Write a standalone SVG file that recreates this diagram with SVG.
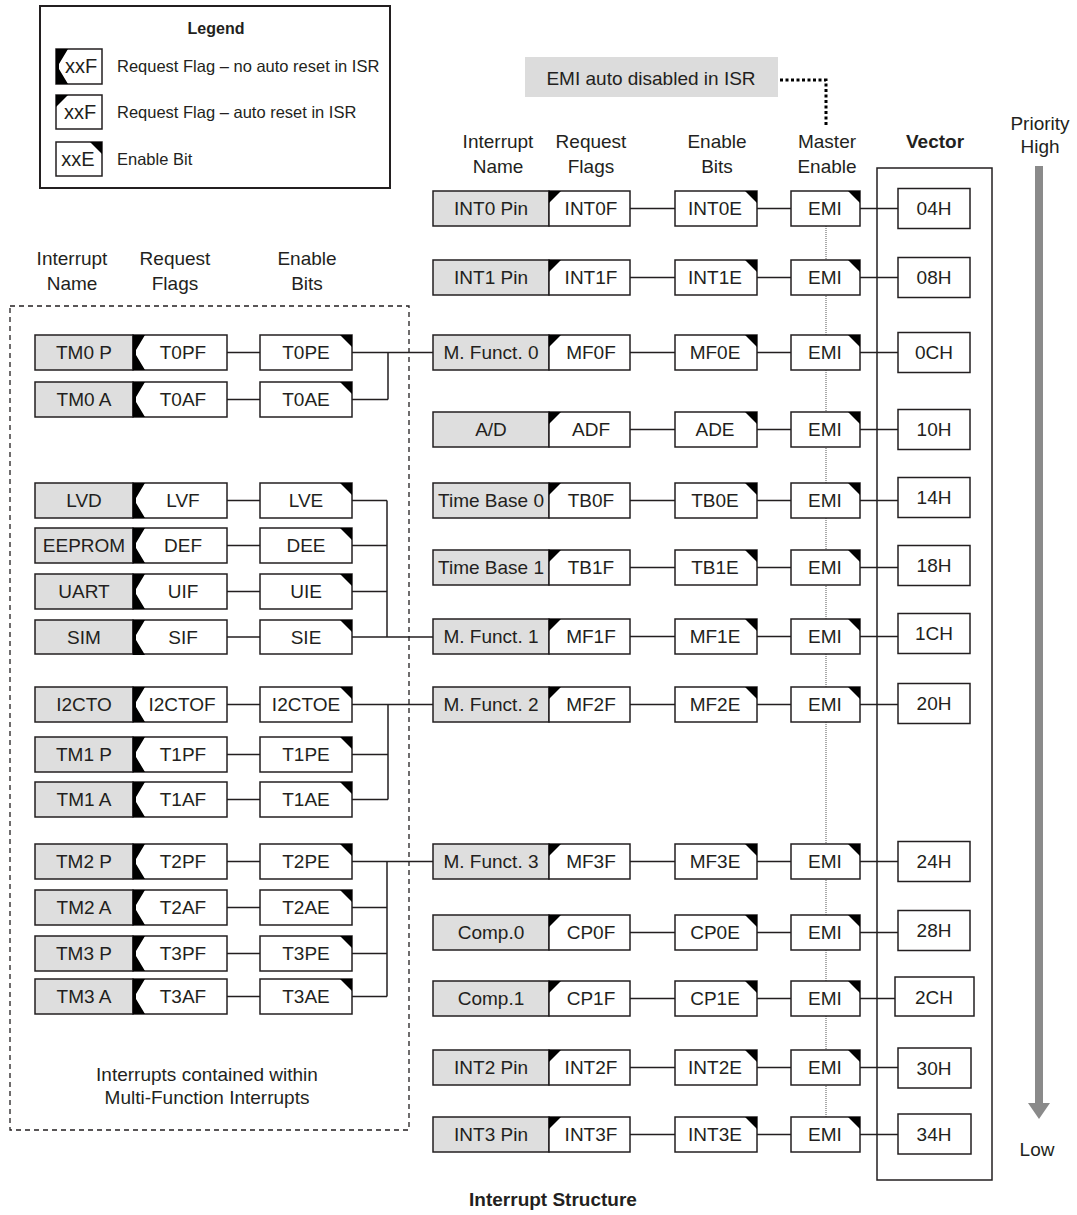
<svg xmlns="http://www.w3.org/2000/svg" xmlns:xlink="http://www.w3.org/1999/xlink" width="1077" height="1215" viewBox="0 0 1077 1215">
<style>
.box{fill:#fff;stroke:#231f20;stroke-width:1.5}
.nm{fill:#dedede;stroke:#231f20;stroke-width:1.5}
.t{font-family:"Liberation Sans",Arial,sans-serif;font-size:19px;fill:#231f20;text-anchor:middle}
.lg{font-family:"Liberation Sans",Arial,sans-serif;font-size:16.5px;fill:#231f20}
.b{font-weight:bold}
.ln{stroke:#231f20;stroke-width:1.5;fill:none}
</style>
<defs>
<path id="tl" d="M0,0 H12 L0,12 Z" fill="#000"/>
<path id="tr" d="M0,0 H-12 L0,12 Z" fill="#000"/>
<path id="dn" d="M0,0 H12 L3,15 V20 L12,35 H0 Z" fill="#000"/>
</defs>
<rect width="1077" height="1215" fill="#fff"/>

<g id="legend">
<rect x="40" y="6" width="350" height="182" fill="#fff" stroke="#231f20" stroke-width="2"/>
<text class="lg b" x="216" y="34" text-anchor="middle" style="font-size:16px">Legend</text>
<rect class="box" x="56" y="49" width="46" height="35"/><use xlink:href="#dn" x="56" y="49"/><text class="t" x="81" y="73" style="font-size:20px">xxF</text>
<text class="lg" x="117" y="72">Request Flag – no auto reset in ISR</text>
<rect class="box" x="56" y="95" width="46" height="34"/><use xlink:href="#tl" x="56" y="95"/><text class="t" x="80" y="119" style="font-size:20px">xxF</text>
<text class="lg" x="117" y="118">Request Flag – auto reset in ISR</text>
<rect class="box" x="56" y="142" width="46" height="34"/><use xlink:href="#tr" x="102" y="142"/><text class="t" x="78" y="166" style="font-size:20px">xxE</text>
<text class="lg" x="117" y="165">Enable Bit</text>
</g>

<g id="headers">
<text class="t" x="72" y="265">Interrupt</text><text class="t" x="72" y="290">Name</text>
<text class="t" x="175" y="265">Request</text><text class="t" x="175" y="290">Flags</text>
<text class="t" x="307" y="265">Enable</text><text class="t" x="307" y="290">Bits</text>
<text class="t" x="498" y="148">Interrupt</text><text class="t" x="498" y="173">Name</text>
<text class="t" x="591" y="148">Request</text><text class="t" x="591" y="173">Flags</text>
<text class="t" x="717" y="148">Enable</text><text class="t" x="717" y="173">Bits</text>
<text class="t" x="827" y="148">Master</text><text class="t" x="827" y="173">Enable</text>
<text class="t b" x="935" y="148">Vector</text>
<text class="t" x="1040" y="130">Priority</text><text class="t" x="1040" y="153">High</text>
</g>

<g id="emi-note">
<rect x="525" y="57" width="253" height="40" fill="#dcdcdc"/>
<text class="t" x="651" y="85">EMI auto disabled in ISR</text>
</g>

<g id="mf-group">
<rect x="10" y="306" width="399" height="824" fill="none" stroke="#231f20" stroke-width="1.3" stroke-dasharray="5,4"/>
<text class="t" x="207" y="1081">Interrupts contained within</text>
<text class="t" x="207" y="1104">Multi-Function Interrupts</text>
</g>

<g id="vector-frame">
<rect x="877" y="168" width="115" height="1012" fill="none" stroke="#231f20" stroke-width="1.5"/>
</g>

<g id="priority">
<rect x="1035" y="166" width="8" height="937" fill="#8a8a8a"/>
<polygon points="1028,1103 1050,1103 1039,1119" fill="#8a8a8a"/>
<text class="t" x="1037" y="1156">Low</text>
</g>

<g id="connectors">
<polyline points="780,80 826,80 826,125" fill="none" stroke="#000" stroke-width="3" stroke-dasharray="3,2.5"/>
<line x1="826" y1="226" x2="826" y2="1118" stroke="#555" stroke-width="1" stroke-dasharray="1,1"/>
<path class="ln" d="M630,208.5H675M757,208.5H791M860,208.5H898
M630,277.5H675M757,277.5H791M860,277.5H898
M630,352.5H675M757,352.5H791M860,352.5H898
M630,429.5H675M757,429.5H791M860,429.5H898
M630,500.5H675M757,500.5H791M860,500.5H898
M630,567.5H675M757,567.5H791M860,567.5H898
M630,636.5H675M757,636.5H791M860,636.5H898
M630,704.5H675M757,704.5H791M860,704.5H898
M630,861.5H675M757,861.5H791M860,861.5H898
M630,932.5H675M757,932.5H791M860,932.5H898
M630,998.5H675M757,998.5H791M860,998.5H898
M630,1067.5H675M757,1067.5H791M860,1067.5H898
M630,1134.5H675M757,1134.5H791M860,1134.5H898"/>
<path class="ln" d="M227,352.5H260M352,352.5H433M227,399.5H260M352,399.5H388M388,352.5V399.5
M227,500.5H260M352,500.5H387M227,545.5H260M352,545.5H387M227,591.5H260M352,591.5H387M227,637H260M352,637H433M387,500.5V637
M227,704.5H260M352,704.5H433M227,754.5H260M352,754.5H388M227,799.5H260M352,799.5H388M388,704.5V799.5
M227,861.5H260M352,861.5H433M227,907.5H260M352,907.5H387M227,953.5H260M352,953.5H387M227,996.5H260M352,996.5H387M387,861.5V996.5"/>
</g>

<!-- left panel -->
<g id="l-tm0p"><rect class="nm" x="35" y="335" width="98" height="35"/><text class="t" x="84" y="359">TM0 P</text></g>
<g id="l-t0pf"><rect class="box" x="133" y="335" width="94" height="35"/><use xlink:href="#dn" x="133" y="335"/><text class="t" x="183" y="359">T0PF</text></g>
<g id="l-t0pe"><rect class="box" x="260" y="335" width="92" height="35"/><use xlink:href="#tr" x="352" y="335"/><text class="t" x="306" y="359">T0PE</text></g>
<g id="l-tm0a"><rect class="nm" x="35" y="382" width="98" height="35"/><text class="t" x="84" y="406">TM0 A</text></g>
<g id="l-t0af"><rect class="box" x="133" y="382" width="94" height="35"/><use xlink:href="#dn" x="133" y="382"/><text class="t" x="183" y="406">T0AF</text></g>
<g id="l-t0ae"><rect class="box" x="260" y="382" width="92" height="35"/><use xlink:href="#tr" x="352" y="382"/><text class="t" x="306" y="406">T0AE</text></g>

<g id="l-lvd"><rect class="nm" x="35" y="483" width="98" height="35"/><text class="t" x="84" y="507">LVD</text></g>
<g id="l-lvf"><rect class="box" x="133" y="483" width="94" height="35"/><use xlink:href="#dn" x="133" y="483"/><text class="t" x="183" y="507">LVF</text></g>
<g id="l-lve"><rect class="box" x="260" y="483" width="92" height="35"/><use xlink:href="#tr" x="352" y="483"/><text class="t" x="306" y="507">LVE</text></g>
<g id="l-eeprom"><rect class="nm" x="35" y="528" width="98" height="35"/><text class="t" x="84" y="552">EEPROM</text></g>
<g id="l-def"><rect class="box" x="133" y="528" width="94" height="35"/><use xlink:href="#dn" x="133" y="528"/><text class="t" x="183" y="552">DEF</text></g>
<g id="l-dee"><rect class="box" x="260" y="528" width="92" height="35"/><use xlink:href="#tr" x="352" y="528"/><text class="t" x="306" y="552">DEE</text></g>
<g id="l-uart"><rect class="nm" x="35" y="574" width="98" height="35"/><text class="t" x="84" y="598">UART</text></g>
<g id="l-uif"><rect class="box" x="133" y="574" width="94" height="35"/><use xlink:href="#dn" x="133" y="574"/><text class="t" x="183" y="598">UIF</text></g>
<g id="l-uie"><rect class="box" x="260" y="574" width="92" height="35"/><use xlink:href="#tr" x="352" y="574"/><text class="t" x="306" y="598">UIE</text></g>
<g id="l-sim"><rect class="nm" x="35" y="620" width="98" height="34"/><text class="t" x="84" y="644">SIM</text></g>
<g id="l-sif"><rect class="box" x="133" y="620" width="94" height="34"/><use xlink:href="#dn" x="133" y="620"/><text class="t" x="183" y="644">SIF</text></g>
<g id="l-sie"><rect class="box" x="260" y="620" width="92" height="34"/><use xlink:href="#tr" x="352" y="620"/><text class="t" x="306" y="644">SIE</text></g>

<g id="l-i2cto"><rect class="nm" x="35" y="687" width="98" height="35"/><text class="t" x="84" y="711">I2CTO</text></g>
<g id="l-i2ctof"><rect class="box" x="133" y="687" width="94" height="35"/><use xlink:href="#dn" x="133" y="687"/><text class="t" x="182" y="711">I2CTOF</text></g>
<g id="l-i2ctoe"><rect class="box" x="260" y="687" width="92" height="35"/><use xlink:href="#tr" x="352" y="687"/><text class="t" x="306" y="711">I2CTOE</text></g>
<g id="l-tm1p"><rect class="nm" x="35" y="737" width="98" height="35"/><text class="t" x="84" y="761">TM1 P</text></g>
<g id="l-t1pf"><rect class="box" x="133" y="737" width="94" height="35"/><use xlink:href="#dn" x="133" y="737"/><text class="t" x="183" y="761">T1PF</text></g>
<g id="l-t1pe"><rect class="box" x="260" y="737" width="92" height="35"/><use xlink:href="#tr" x="352" y="737"/><text class="t" x="306" y="761">T1PE</text></g>
<g id="l-tm1a"><rect class="nm" x="35" y="782" width="98" height="35"/><text class="t" x="84" y="806">TM1 A</text></g>
<g id="l-t1af"><rect class="box" x="133" y="782" width="94" height="35"/><use xlink:href="#dn" x="133" y="782"/><text class="t" x="183" y="806">T1AF</text></g>
<g id="l-t1ae"><rect class="box" x="260" y="782" width="92" height="35"/><use xlink:href="#tr" x="352" y="782"/><text class="t" x="306" y="806">T1AE</text></g>

<g id="l-tm2p"><rect class="nm" x="35" y="844" width="98" height="35"/><text class="t" x="84" y="868">TM2 P</text></g>
<g id="l-t2pf"><rect class="box" x="133" y="844" width="94" height="35"/><use xlink:href="#dn" x="133" y="844"/><text class="t" x="183" y="868">T2PF</text></g>
<g id="l-t2pe"><rect class="box" x="260" y="844" width="92" height="35"/><use xlink:href="#tr" x="352" y="844"/><text class="t" x="306" y="868">T2PE</text></g>
<g id="l-tm2a"><rect class="nm" x="35" y="890" width="98" height="35"/><text class="t" x="84" y="914">TM2 A</text></g>
<g id="l-t2af"><rect class="box" x="133" y="890" width="94" height="35"/><use xlink:href="#dn" x="133" y="890"/><text class="t" x="183" y="914">T2AF</text></g>
<g id="l-t2ae"><rect class="box" x="260" y="890" width="92" height="35"/><use xlink:href="#tr" x="352" y="890"/><text class="t" x="306" y="914">T2AE</text></g>
<g id="l-tm3p"><rect class="nm" x="35" y="936" width="98" height="35"/><text class="t" x="84" y="960">TM3 P</text></g>
<g id="l-t3pf"><rect class="box" x="133" y="936" width="94" height="35"/><use xlink:href="#dn" x="133" y="936"/><text class="t" x="183" y="960">T3PF</text></g>
<g id="l-t3pe"><rect class="box" x="260" y="936" width="92" height="35"/><use xlink:href="#tr" x="352" y="936"/><text class="t" x="306" y="960">T3PE</text></g>
<g id="l-tm3a"><rect class="nm" x="35" y="979" width="98" height="35"/><text class="t" x="84" y="1003">TM3 A</text></g>
<g id="l-t3af"><rect class="box" x="133" y="979" width="94" height="35"/><use xlink:href="#dn" x="133" y="979"/><text class="t" x="183" y="1003">T3AF</text></g>
<g id="l-t3ae"><rect class="box" x="260" y="979" width="92" height="35"/><use xlink:href="#tr" x="352" y="979"/><text class="t" x="306" y="1003">T3AE</text></g>

<!-- right panel -->
<g id="r-int0"><rect class="nm" x="433" y="191" width="116" height="35"/><text class="t" x="491" y="215">INT0 Pin</text></g>
<g id="r-int0f"><rect class="box" x="549" y="191" width="81" height="35"/><use xlink:href="#tl" x="549" y="191"/><text class="t" x="591" y="215">INT0F</text></g>
<g id="r-int0e"><rect class="box" x="675" y="191" width="82" height="35"/><use xlink:href="#tr" x="757" y="191"/><text class="t" x="715" y="215">INT0E</text></g>
<g id="r-emi1"><rect class="box" x="791" y="191" width="69" height="35"/><use xlink:href="#tr" x="860" y="191"/><text class="t" x="825" y="215">EMI</text></g>
<g id="v-04h"><rect class="box" x="898" y="188.5" width="72" height="40"/><text class="t" x="934" y="215">04H</text></g>

<g id="r-int1"><rect class="nm" x="433" y="260" width="116" height="35"/><text class="t" x="491" y="284">INT1 Pin</text></g>
<g id="r-int1f"><rect class="box" x="549" y="260" width="81" height="35"/><use xlink:href="#tl" x="549" y="260"/><text class="t" x="591" y="284">INT1F</text></g>
<g id="r-int1e"><rect class="box" x="675" y="260" width="82" height="35"/><use xlink:href="#tr" x="757" y="260"/><text class="t" x="715" y="284">INT1E</text></g>
<g id="r-emi2"><rect class="box" x="791" y="260" width="69" height="35"/><use xlink:href="#tr" x="860" y="260"/><text class="t" x="825" y="284">EMI</text></g>
<g id="v-08h"><rect class="box" x="898" y="257.5" width="72" height="40"/><text class="t" x="934" y="284">08H</text></g>

<g id="r-mf0"><rect class="nm" x="433" y="335" width="116" height="35"/><text class="t" x="491" y="359">M. Funct. 0</text></g>
<g id="r-mf0f"><rect class="box" x="549" y="335" width="81" height="35"/><use xlink:href="#tl" x="549" y="335"/><text class="t" x="591" y="359">MF0F</text></g>
<g id="r-mf0e"><rect class="box" x="675" y="335" width="82" height="35"/><use xlink:href="#tr" x="757" y="335"/><text class="t" x="715" y="359">MF0E</text></g>
<g id="r-emi3"><rect class="box" x="791" y="335" width="69" height="35"/><use xlink:href="#tr" x="860" y="335"/><text class="t" x="825" y="359">EMI</text></g>
<g id="v-0ch"><rect class="box" x="898" y="332.5" width="72" height="40"/><text class="t" x="934" y="359">0CH</text></g>

<g id="r-ad"><rect class="nm" x="433" y="412" width="116" height="35"/><text class="t" x="491" y="436">A/D</text></g>
<g id="r-adf"><rect class="box" x="549" y="412" width="81" height="35"/><use xlink:href="#tl" x="549" y="412"/><text class="t" x="591" y="436">ADF</text></g>
<g id="r-ade"><rect class="box" x="675" y="412" width="82" height="35"/><use xlink:href="#tr" x="757" y="412"/><text class="t" x="715" y="436">ADE</text></g>
<g id="r-emi4"><rect class="box" x="791" y="412" width="69" height="35"/><use xlink:href="#tr" x="860" y="412"/><text class="t" x="825" y="436">EMI</text></g>
<g id="v-10h"><rect class="box" x="898" y="409.5" width="72" height="40"/><text class="t" x="934" y="436">10H</text></g>

<g id="r-tb0"><rect class="nm" x="433" y="483" width="116" height="35"/><text class="t" x="491" y="507">Time Base 0</text></g>
<g id="r-tb0f"><rect class="box" x="549" y="483" width="81" height="35"/><use xlink:href="#tl" x="549" y="483"/><text class="t" x="591" y="507">TB0F</text></g>
<g id="r-tb0e"><rect class="box" x="675" y="483" width="82" height="35"/><use xlink:href="#tr" x="757" y="483"/><text class="t" x="715" y="507">TB0E</text></g>
<g id="r-emi5"><rect class="box" x="791" y="483" width="69" height="35"/><use xlink:href="#tr" x="860" y="483"/><text class="t" x="825" y="507">EMI</text></g>
<g id="v-14h"><rect class="box" x="898" y="477.5" width="72" height="40"/><text class="t" x="934" y="504">14H</text></g>

<g id="r-tb1"><rect class="nm" x="433" y="550" width="116" height="35"/><text class="t" x="491" y="574">Time Base 1</text></g>
<g id="r-tb1f"><rect class="box" x="549" y="550" width="81" height="35"/><use xlink:href="#tl" x="549" y="550"/><text class="t" x="591" y="574">TB1F</text></g>
<g id="r-tb1e"><rect class="box" x="675" y="550" width="82" height="35"/><use xlink:href="#tr" x="757" y="550"/><text class="t" x="715" y="574">TB1E</text></g>
<g id="r-emi6"><rect class="box" x="791" y="550" width="69" height="35"/><use xlink:href="#tr" x="860" y="550"/><text class="t" x="825" y="574">EMI</text></g>
<g id="v-18h"><rect class="box" x="898" y="545.5" width="72" height="40"/><text class="t" x="934" y="572">18H</text></g>

<g id="r-mf1"><rect class="nm" x="433" y="619" width="116" height="35"/><text class="t" x="491" y="643">M. Funct. 1</text></g>
<g id="r-mf1f"><rect class="box" x="549" y="619" width="81" height="35"/><use xlink:href="#tl" x="549" y="619"/><text class="t" x="591" y="643">MF1F</text></g>
<g id="r-mf1e"><rect class="box" x="675" y="619" width="82" height="35"/><use xlink:href="#tr" x="757" y="619"/><text class="t" x="715" y="643">MF1E</text></g>
<g id="r-emi7"><rect class="box" x="791" y="619" width="69" height="35"/><use xlink:href="#tr" x="860" y="619"/><text class="t" x="825" y="643">EMI</text></g>
<g id="v-1ch"><rect class="box" x="898" y="613.5" width="72" height="40"/><text class="t" x="934" y="640">1CH</text></g>

<g id="r-mf2"><rect class="nm" x="433" y="687" width="116" height="35"/><text class="t" x="491" y="711">M. Funct. 2</text></g>
<g id="r-mf2f"><rect class="box" x="549" y="687" width="81" height="35"/><use xlink:href="#tl" x="549" y="687"/><text class="t" x="591" y="711">MF2F</text></g>
<g id="r-mf2e"><rect class="box" x="675" y="687" width="82" height="35"/><use xlink:href="#tr" x="757" y="687"/><text class="t" x="715" y="711">MF2E</text></g>
<g id="r-emi8"><rect class="box" x="791" y="687" width="69" height="35"/><use xlink:href="#tr" x="860" y="687"/><text class="t" x="825" y="711">EMI</text></g>
<g id="v-20h"><rect class="box" x="898" y="683.5" width="72" height="40"/><text class="t" x="934" y="710">20H</text></g>

<g id="r-mf3"><rect class="nm" x="433" y="844" width="116" height="35"/><text class="t" x="491" y="868">M. Funct. 3</text></g>
<g id="r-mf3f"><rect class="box" x="549" y="844" width="81" height="35"/><use xlink:href="#tl" x="549" y="844"/><text class="t" x="591" y="868">MF3F</text></g>
<g id="r-mf3e"><rect class="box" x="675" y="844" width="82" height="35"/><use xlink:href="#tr" x="757" y="844"/><text class="t" x="715" y="868">MF3E</text></g>
<g id="r-emi9"><rect class="box" x="791" y="844" width="69" height="35"/><use xlink:href="#tr" x="860" y="844"/><text class="t" x="825" y="868">EMI</text></g>
<g id="v-24h"><rect class="box" x="898" y="841.5" width="72" height="40"/><text class="t" x="934" y="868">24H</text></g>

<g id="r-cp0"><rect class="nm" x="433" y="915" width="116" height="35"/><text class="t" x="491" y="939">Comp.0</text></g>
<g id="r-cp0f"><rect class="box" x="549" y="915" width="81" height="35"/><use xlink:href="#tl" x="549" y="915"/><text class="t" x="591" y="939">CP0F</text></g>
<g id="r-cp0e"><rect class="box" x="675" y="915" width="82" height="35"/><use xlink:href="#tr" x="757" y="915"/><text class="t" x="715" y="939">CP0E</text></g>
<g id="r-emi10"><rect class="box" x="791" y="915" width="69" height="35"/><use xlink:href="#tr" x="860" y="915"/><text class="t" x="825" y="939">EMI</text></g>
<g id="v-28h"><rect class="box" x="898" y="910.5" width="72" height="40"/><text class="t" x="934" y="937">28H</text></g>

<g id="r-cp1"><rect class="nm" x="433" y="981" width="116" height="35"/><text class="t" x="491" y="1005">Comp.1</text></g>
<g id="r-cp1f"><rect class="box" x="549" y="981" width="81" height="35"/><use xlink:href="#tl" x="549" y="981"/><text class="t" x="591" y="1005">CP1F</text></g>
<g id="r-cp1e"><rect class="box" x="675" y="981" width="82" height="35"/><use xlink:href="#tr" x="757" y="981"/><text class="t" x="715" y="1005">CP1E</text></g>
<g id="r-emi11"><rect class="box" x="791" y="981" width="69" height="35"/><use xlink:href="#tr" x="860" y="981"/><text class="t" x="825" y="1005">EMI</text></g>
<g id="v-2ch"><rect class="box" x="895" y="977" width="79" height="39"/><text class="t" x="934" y="1004">2CH</text></g>

<g id="r-int2"><rect class="nm" x="433" y="1050" width="116" height="35"/><text class="t" x="491" y="1074">INT2 Pin</text></g>
<g id="r-int2f"><rect class="box" x="549" y="1050" width="81" height="35"/><use xlink:href="#tl" x="549" y="1050"/><text class="t" x="591" y="1074">INT2F</text></g>
<g id="r-int2e"><rect class="box" x="675" y="1050" width="82" height="35"/><use xlink:href="#tr" x="757" y="1050"/><text class="t" x="715" y="1074">INT2E</text></g>
<g id="r-emi12"><rect class="box" x="791" y="1050" width="69" height="35"/><use xlink:href="#tr" x="860" y="1050"/><text class="t" x="825" y="1074">EMI</text></g>
<g id="v-30h"><rect class="box" x="898" y="1048" width="73" height="40"/><text class="t" x="934" y="1075">30H</text></g>

<g id="r-int3"><rect class="nm" x="433" y="1117" width="116" height="35"/><text class="t" x="491" y="1141">INT3 Pin</text></g>
<g id="r-int3f"><rect class="box" x="549" y="1117" width="81" height="35"/><use xlink:href="#tl" x="549" y="1117"/><text class="t" x="591" y="1141">INT3F</text></g>
<g id="r-int3e"><rect class="box" x="675" y="1117" width="82" height="35"/><use xlink:href="#tr" x="757" y="1117"/><text class="t" x="715" y="1141">INT3E</text></g>
<g id="r-emi13"><rect class="box" x="791" y="1117" width="69" height="35"/><use xlink:href="#tr" x="860" y="1117"/><text class="t" x="825" y="1141">EMI</text></g>
<g id="v-34h"><rect class="box" x="898" y="1114" width="73" height="40"/><text class="t" x="934" y="1141">34H</text></g>

<g id="title"><text class="t b" x="553" y="1206">Interrupt Structure</text></g>
</svg>
